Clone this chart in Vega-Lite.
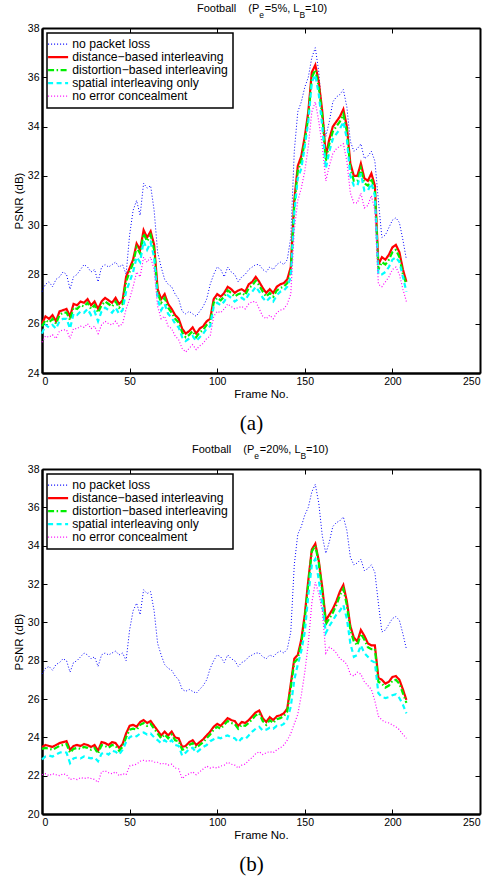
{
"$schema":"https://vega.github.io/schema/vega-lite/v6.json",
"background":"white",
"padding":{"left":13,"top":2,"right":2,"bottom":5},
"config":{"view":{"stroke":null},"font":"Liberation Sans",
"axis":{"grid":false,"labelFont":"Liberation Sans","titleFont":"Liberation Sans","labelFontSize":10.5,"titleFontSize":11.5,"titleFontWeight":"normal","labelColor":"black","titleColor":"black","domainColor":"black","tickColor":"black","tickSize":-5,"tickWidth":1,"labelPadding":8},
"title":{"font":"Liberation Sans","subtitleFont":"Liberation Sans","fontWeight":"normal","color":"black","subtitleColor":"black"},
"legend":{"orient":"top-left","offset":5,"symbolType":"stroke","symbolSize":400,"labelFontSize":12.2,"labelFont":"Liberation Sans","labelColor":"black","strokeColor":"black","fillColor":"white","padding":5,"rowPadding":-6.5,"labelOffset":8,"labelLimit":0,"symbolStrokeWidth":1.5}},
"datasets":{
"n":[{"f":0,"s":"n","v":27.3},{"f":2,"s":"n","v":27.6},{"f":4,"s":"n","v":27.7},{"f":6,"s":"n","v":27.5},{"f":8,"s":"n","v":27.8},{"f":10,"s":"n","v":27.9},{"f":12,"s":"n","v":28.1},{"f":14,"s":"n","v":28.0},{"f":16,"s":"n","v":27.4},{"f":18,"s":"n","v":27.9},{"f":20,"s":"n","v":28.0},{"f":22,"s":"n","v":28.2},{"f":24,"s":"n","v":28.4},{"f":26,"s":"n","v":28.3},{"f":28,"s":"n","v":28.1},{"f":30,"s":"n","v":28.2},{"f":32,"s":"n","v":27.7},{"f":34,"s":"n","v":28.3},{"f":36,"s":"n","v":28.4},{"f":38,"s":"n","v":28.3},{"f":40,"s":"n","v":28.4},{"f":42,"s":"n","v":28.5},{"f":44,"s":"n","v":28.3},{"f":46,"s":"n","v":28.4},{"f":48,"s":"n","v":28.0},{"f":50,"s":"n","v":29.6},{"f":52,"s":"n","v":30.6},{"f":54,"s":"n","v":31.0},{"f":56,"s":"n","v":30.4},{"f":58,"s":"n","v":31.7},{"f":60,"s":"n","v":31.5},{"f":62,"s":"n","v":31.6},{"f":64,"s":"n","v":30.6},{"f":66,"s":"n","v":28.9},{"f":68,"s":"n","v":28.3},{"f":70,"s":"n","v":27.8},{"f":72,"s":"n","v":27.6},{"f":74,"s":"n","v":27.5},{"f":76,"s":"n","v":27.2},{"f":78,"s":"n","v":27.0},{"f":80,"s":"n","v":26.5},{"f":82,"s":"n","v":26.4},{"f":84,"s":"n","v":26.5},{"f":86,"s":"n","v":26.4},{"f":88,"s":"n","v":26.3},{"f":90,"s":"n","v":26.5},{"f":92,"s":"n","v":26.7},{"f":94,"s":"n","v":27.0},{"f":96,"s":"n","v":27.6},{"f":98,"s":"n","v":28.0},{"f":100,"s":"n","v":28.3},{"f":102,"s":"n","v":28.2},{"f":104,"s":"n","v":27.9},{"f":106,"s":"n","v":28.3},{"f":108,"s":"n","v":28.1},{"f":110,"s":"n","v":28.0},{"f":112,"s":"n","v":27.7},{"f":114,"s":"n","v":27.9},{"f":116,"s":"n","v":28.0},{"f":118,"s":"n","v":28.2},{"f":120,"s":"n","v":28.3},{"f":122,"s":"n","v":28.4},{"f":124,"s":"n","v":28.4},{"f":126,"s":"n","v":28.2},{"f":128,"s":"n","v":28.1},{"f":130,"s":"n","v":28.3},{"f":132,"s":"n","v":28.2},{"f":134,"s":"n","v":28.4},{"f":136,"s":"n","v":28.5},{"f":138,"s":"n","v":28.4},{"f":140,"s":"n","v":28.6},{"f":142,"s":"n","v":29.5},{"f":144,"s":"n","v":33.0},{"f":146,"s":"n","v":34.6},{"f":148,"s":"n","v":35.0},{"f":150,"s":"n","v":35.6},{"f":152,"s":"n","v":36.0},{"f":154,"s":"n","v":36.8},{"f":156,"s":"n","v":37.2},{"f":158,"s":"n","v":36.2},{"f":160,"s":"n","v":34.5},{"f":162,"s":"n","v":33.6},{"f":164,"s":"n","v":34.2},{"f":166,"s":"n","v":35.0},{"f":168,"s":"n","v":35.2},{"f":170,"s":"n","v":35.3},{"f":172,"s":"n","v":35.5},{"f":174,"s":"n","v":34.8},{"f":176,"s":"n","v":33.4},{"f":178,"s":"n","v":33.0},{"f":180,"s":"n","v":33.1},{"f":182,"s":"n","v":33.3},{"f":184,"s":"n","v":32.7},{"f":186,"s":"n","v":32.8},{"f":188,"s":"n","v":33.0},{"f":190,"s":"n","v":32.6},{"f":192,"s":"n","v":31.0},{"f":194,"s":"n","v":29.5},{"f":196,"s":"n","v":29.6},{"f":198,"s":"n","v":29.9},{"f":200,"s":"n","v":30.2},{"f":202,"s":"n","v":30.3},{"f":204,"s":"n","v":30.1},{"f":206,"s":"n","v":29.4},{"f":208,"s":"n","v":28.6}],
"a":[{"f":0,"s":"d","v":26.0},{"f":2,"s":"d","v":26.3},{"f":4,"s":"d","v":26.2},{"f":6,"s":"d","v":26.35},{"f":8,"s":"d","v":26.1},{"f":10,"s":"d","v":26.5},{"f":12,"s":"d","v":26.55},{"f":14,"s":"d","v":26.6},{"f":16,"s":"d","v":26.3},{"f":18,"s":"d","v":26.8},{"f":20,"s":"d","v":26.75},{"f":22,"s":"d","v":26.9},{"f":24,"s":"d","v":26.85},{"f":26,"s":"d","v":27.0},{"f":28,"s":"d","v":26.75},{"f":30,"s":"d","v":26.9},{"f":32,"s":"d","v":26.6},{"f":34,"s":"d","v":26.9},{"f":36,"s":"d","v":27.05},{"f":38,"s":"d","v":26.95},{"f":40,"s":"d","v":26.85},{"f":42,"s":"d","v":27.05},{"f":44,"s":"d","v":26.8},{"f":46,"s":"d","v":26.95},{"f":48,"s":"d","v":27.9},{"f":50,"s":"d","v":28.25},{"f":52,"s":"d","v":28.6},{"f":54,"s":"d","v":29.25},{"f":56,"s":"d","v":29.0},{"f":58,"s":"d","v":29.8},{"f":60,"s":"d","v":29.5},{"f":62,"s":"d","v":29.75},{"f":64,"s":"d","v":29.2},{"f":66,"s":"d","v":27.4},{"f":68,"s":"d","v":27.0},{"f":70,"s":"d","v":27.2},{"f":72,"s":"d","v":26.8},{"f":74,"s":"d","v":26.6},{"f":76,"s":"d","v":26.35},{"f":78,"s":"d","v":26.2},{"f":80,"s":"d","v":25.8},{"f":82,"s":"d","v":25.6},{"f":84,"s":"d","v":25.7},{"f":86,"s":"d","v":25.85},{"f":88,"s":"d","v":25.6},{"f":90,"s":"d","v":25.8},{"f":92,"s":"d","v":25.9},{"f":94,"s":"d","v":26.1},{"f":96,"s":"d","v":26.2},{"f":98,"s":"d","v":27.0},{"f":100,"s":"d","v":27.2},{"f":102,"s":"d","v":27.1},{"f":104,"s":"d","v":27.25},{"f":106,"s":"d","v":27.5},{"f":108,"s":"d","v":27.4},{"f":110,"s":"d","v":27.25},{"f":112,"s":"d","v":27.35},{"f":114,"s":"d","v":27.4},{"f":116,"s":"d","v":27.3},{"f":118,"s":"d","v":27.6},{"f":120,"s":"d","v":27.7},{"f":122,"s":"d","v":27.9},{"f":124,"s":"d","v":27.7},{"f":126,"s":"d","v":27.45},{"f":128,"s":"d","v":27.25},{"f":130,"s":"d","v":27.4},{"f":132,"s":"d","v":27.25},{"f":134,"s":"d","v":27.5},{"f":136,"s":"d","v":27.6},{"f":138,"s":"d","v":27.65},{"f":140,"s":"d","v":27.8},{"f":142,"s":"d","v":28.3},{"f":144,"s":"d","v":31.0},{"f":146,"s":"d","v":32.4},{"f":148,"s":"d","v":32.8},{"f":150,"s":"d","v":33.6},{"f":152,"s":"d","v":34.6},{"f":154,"s":"d","v":36.2},{"f":156,"s":"d","v":36.5},{"f":158,"s":"d","v":35.8},{"f":160,"s":"d","v":34.6},{"f":162,"s":"d","v":32.8},{"f":164,"s":"d","v":33.5},{"f":166,"s":"d","v":34.0},{"f":168,"s":"d","v":34.2},{"f":170,"s":"d","v":34.4},{"f":172,"s":"d","v":34.7},{"f":174,"s":"d","v":34.0},{"f":176,"s":"d","v":32.5},{"f":178,"s":"d","v":32.0},{"f":180,"s":"d","v":32.0},{"f":182,"s":"d","v":32.5},{"f":184,"s":"d","v":31.9},{"f":186,"s":"d","v":31.8},{"f":188,"s":"d","v":32.1},{"f":190,"s":"d","v":31.6},{"f":192,"s":"d","v":28.4},{"f":194,"s":"d","v":28.7},{"f":196,"s":"d","v":28.6},{"f":198,"s":"d","v":28.8},{"f":200,"s":"d","v":29.1},{"f":202,"s":"d","v":29.2},{"f":204,"s":"d","v":28.9},{"f":206,"s":"d","v":28.2},{"f":208,"s":"d","v":27.7},
{"f":0,"s":"t","v":25.9},{"f":2,"s":"t","v":26.15},{"f":4,"s":"t","v":26.05},{"f":6,"s":"t","v":26.2},{"f":8,"s":"t","v":26.0},{"f":10,"s":"t","v":26.35},{"f":12,"s":"t","v":26.45},{"f":14,"s":"t","v":26.45},{"f":16,"s":"t","v":26.15},{"f":18,"s":"t","v":26.65},{"f":20,"s":"t","v":26.6},{"f":22,"s":"t","v":26.75},{"f":24,"s":"t","v":26.7},{"f":26,"s":"t","v":26.85},{"f":28,"s":"t","v":26.6},{"f":30,"s":"t","v":26.75},{"f":32,"s":"t","v":26.45},{"f":34,"s":"t","v":26.75},{"f":36,"s":"t","v":26.9},{"f":38,"s":"t","v":26.8},{"f":40,"s":"t","v":26.7},{"f":42,"s":"t","v":26.9},{"f":44,"s":"t","v":26.65},{"f":46,"s":"t","v":26.8},{"f":48,"s":"t","v":27.7},{"f":50,"s":"t","v":28.1},{"f":52,"s":"t","v":28.45},{"f":54,"s":"t","v":29.1},{"f":56,"s":"t","v":28.85},{"f":58,"s":"t","v":29.65},{"f":60,"s":"t","v":29.35},{"f":62,"s":"t","v":29.6},{"f":64,"s":"t","v":29.0},{"f":66,"s":"t","v":27.25},{"f":68,"s":"t","v":26.85},{"f":70,"s":"t","v":27.05},{"f":72,"s":"t","v":26.65},{"f":74,"s":"t","v":26.45},{"f":76,"s":"t","v":26.2},{"f":78,"s":"t","v":26.05},{"f":80,"s":"t","v":25.65},{"f":82,"s":"t","v":25.45},{"f":84,"s":"t","v":25.55},{"f":86,"s":"t","v":25.7},{"f":88,"s":"t","v":25.45},{"f":90,"s":"t","v":25.65},{"f":92,"s":"t","v":25.75},{"f":94,"s":"t","v":25.95},{"f":96,"s":"t","v":26.05},{"f":98,"s":"t","v":26.85},{"f":100,"s":"t","v":27.05},{"f":102,"s":"t","v":26.95},{"f":104,"s":"t","v":27.1},{"f":106,"s":"t","v":27.35},{"f":108,"s":"t","v":27.25},{"f":110,"s":"t","v":27.1},{"f":112,"s":"t","v":27.2},{"f":114,"s":"t","v":27.25},{"f":116,"s":"t","v":27.15},{"f":118,"s":"t","v":27.45},{"f":120,"s":"t","v":27.55},{"f":122,"s":"t","v":27.75},{"f":124,"s":"t","v":27.55},{"f":126,"s":"t","v":27.3},{"f":128,"s":"t","v":27.1},{"f":130,"s":"t","v":27.25},{"f":132,"s":"t","v":27.1},{"f":134,"s":"t","v":27.35},{"f":136,"s":"t","v":27.45},{"f":138,"s":"t","v":27.5},{"f":140,"s":"t","v":27.65},{"f":142,"s":"t","v":28.1},{"f":144,"s":"t","v":30.8},{"f":146,"s":"t","v":32.2},{"f":148,"s":"t","v":32.6},{"f":150,"s":"t","v":33.4},{"f":152,"s":"t","v":34.4},{"f":154,"s":"t","v":36.0},{"f":156,"s":"t","v":36.3},{"f":158,"s":"t","v":35.6},{"f":160,"s":"t","v":34.4},{"f":162,"s":"t","v":32.6},{"f":164,"s":"t","v":33.3},{"f":166,"s":"t","v":33.8},{"f":168,"s":"t","v":34.0},{"f":170,"s":"t","v":34.2},{"f":172,"s":"t","v":34.5},{"f":174,"s":"t","v":33.8},{"f":176,"s":"t","v":32.3},{"f":178,"s":"t","v":31.8},{"f":180,"s":"t","v":31.8},{"f":182,"s":"t","v":32.3},{"f":184,"s":"t","v":31.7},{"f":186,"s":"t","v":31.6},{"f":188,"s":"t","v":31.9},{"f":190,"s":"t","v":31.4},{"f":192,"s":"t","v":28.2},{"f":194,"s":"t","v":28.5},{"f":196,"s":"t","v":28.4},{"f":198,"s":"t","v":28.6},{"f":200,"s":"t","v":28.9},{"f":202,"s":"t","v":29.0},{"f":204,"s":"t","v":28.7},{"f":206,"s":"t","v":28.0},{"f":208,"s":"t","v":27.6},
{"f":0,"s":"s","v":25.6},{"f":2,"s":"s","v":25.95},{"f":4,"s":"s","v":25.85},{"f":6,"s":"s","v":25.95},{"f":8,"s":"s","v":25.8},{"f":10,"s":"s","v":26.1},{"f":12,"s":"s","v":26.2},{"f":14,"s":"s","v":26.2},{"f":16,"s":"s","v":25.8},{"f":18,"s":"s","v":26.4},{"f":20,"s":"s","v":26.35},{"f":22,"s":"s","v":26.5},{"f":24,"s":"s","v":26.45},{"f":26,"s":"s","v":26.6},{"f":28,"s":"s","v":26.35},{"f":30,"s":"s","v":26.5},{"f":32,"s":"s","v":26.1},{"f":34,"s":"s","v":26.5},{"f":36,"s":"s","v":26.65},{"f":38,"s":"s","v":26.55},{"f":40,"s":"s","v":26.45},{"f":42,"s":"s","v":26.65},{"f":44,"s":"s","v":26.4},{"f":46,"s":"s","v":26.55},{"f":48,"s":"s","v":27.3},{"f":50,"s":"s","v":27.7},{"f":52,"s":"s","v":28.1},{"f":54,"s":"s","v":28.7},{"f":56,"s":"s","v":28.5},{"f":58,"s":"s","v":29.35},{"f":60,"s":"s","v":29.0},{"f":62,"s":"s","v":29.3},{"f":64,"s":"s","v":28.7},{"f":66,"s":"s","v":27.0},{"f":68,"s":"s","v":26.55},{"f":70,"s":"s","v":26.8},{"f":72,"s":"s","v":26.4},{"f":74,"s":"s","v":26.25},{"f":76,"s":"s","v":26.0},{"f":78,"s":"s","v":25.85},{"f":80,"s":"s","v":25.45},{"f":82,"s":"s","v":25.3},{"f":84,"s":"s","v":25.4},{"f":86,"s":"s","v":25.5},{"f":88,"s":"s","v":25.3},{"f":90,"s":"s","v":25.45},{"f":92,"s":"s","v":25.6},{"f":94,"s":"s","v":25.8},{"f":96,"s":"s","v":25.9},{"f":98,"s":"s","v":26.7},{"f":100,"s":"s","v":26.85},{"f":102,"s":"s","v":26.75},{"f":104,"s":"s","v":26.9},{"f":106,"s":"s","v":27.15},{"f":108,"s":"s","v":27.05},{"f":110,"s":"s","v":26.9},{"f":112,"s":"s","v":27.0},{"f":114,"s":"s","v":27.05},{"f":116,"s":"s","v":26.95},{"f":118,"s":"s","v":27.2},{"f":120,"s":"s","v":27.3},{"f":122,"s":"s","v":27.5},{"f":124,"s":"s","v":27.3},{"f":126,"s":"s","v":27.05},{"f":128,"s":"s","v":26.9},{"f":130,"s":"s","v":27.05},{"f":132,"s":"s","v":26.9},{"f":134,"s":"s","v":27.15},{"f":136,"s":"s","v":27.3},{"f":138,"s":"s","v":27.35},{"f":140,"s":"s","v":27.5},{"f":142,"s":"s","v":27.9},{"f":144,"s":"s","v":30.5},{"f":146,"s":"s","v":31.9},{"f":148,"s":"s","v":32.3},{"f":150,"s":"s","v":33.2},{"f":152,"s":"s","v":34.2},{"f":154,"s":"s","v":35.8},{"f":156,"s":"s","v":36.1},{"f":158,"s":"s","v":35.3},{"f":160,"s":"s","v":34.0},{"f":162,"s":"s","v":32.3},{"f":164,"s":"s","v":33.0},{"f":166,"s":"s","v":33.5},{"f":168,"s":"s","v":33.7},{"f":170,"s":"s","v":33.9},{"f":172,"s":"s","v":34.2},{"f":174,"s":"s","v":33.5},{"f":176,"s":"s","v":32.0},{"f":178,"s":"s","v":31.6},{"f":180,"s":"s","v":31.6},{"f":182,"s":"s","v":32.1},{"f":184,"s":"s","v":31.4},{"f":186,"s":"s","v":31.4},{"f":188,"s":"s","v":31.7},{"f":190,"s":"s","v":31.2},{"f":192,"s":"s","v":28.0},{"f":194,"s":"s","v":28.0},{"f":196,"s":"s","v":28.1},{"f":198,"s":"s","v":28.3},{"f":200,"s":"s","v":28.6},{"f":202,"s":"s","v":28.7},{"f":204,"s":"s","v":28.5},{"f":206,"s":"s","v":27.9},{"f":208,"s":"s","v":27.3},
{"f":0,"s":"c","v":25.25},{"f":2,"s":"c","v":25.5},{"f":4,"s":"c","v":25.45},{"f":6,"s":"c","v":25.55},{"f":8,"s":"c","v":25.4},{"f":10,"s":"c","v":25.7},{"f":12,"s":"c","v":25.75},{"f":14,"s":"c","v":25.75},{"f":16,"s":"c","v":25.4},{"f":18,"s":"c","v":25.8},{"f":20,"s":"c","v":25.8},{"f":22,"s":"c","v":25.9},{"f":24,"s":"c","v":25.85},{"f":26,"s":"c","v":26.0},{"f":28,"s":"c","v":25.8},{"f":30,"s":"c","v":25.9},{"f":32,"s":"c","v":25.6},{"f":34,"s":"c","v":25.95},{"f":36,"s":"c","v":26.1},{"f":38,"s":"c","v":26.0},{"f":40,"s":"c","v":25.95},{"f":42,"s":"c","v":26.1},{"f":44,"s":"c","v":25.9},{"f":46,"s":"c","v":26.0},{"f":48,"s":"c","v":26.6},{"f":50,"s":"c","v":27.0},{"f":52,"s":"c","v":27.5},{"f":54,"s":"c","v":28.1},{"f":56,"s":"c","v":27.9},{"f":58,"s":"c","v":28.7},{"f":60,"s":"c","v":28.5},{"f":62,"s":"c","v":28.7},{"f":64,"s":"c","v":28.2},{"f":66,"s":"c","v":26.7},{"f":68,"s":"c","v":26.2},{"f":70,"s":"c","v":26.3},{"f":72,"s":"c","v":25.9},{"f":74,"s":"c","v":25.8},{"f":76,"s":"c","v":25.5},{"f":78,"s":"c","v":25.35},{"f":80,"s":"c","v":25.0},{"f":82,"s":"c","v":24.85},{"f":84,"s":"c","v":25.0},{"f":86,"s":"c","v":25.15},{"f":88,"s":"c","v":24.95},{"f":90,"s":"c","v":25.1},{"f":92,"s":"c","v":25.2},{"f":94,"s":"c","v":25.4},{"f":96,"s":"c","v":25.5},{"f":98,"s":"c","v":26.3},{"f":100,"s":"c","v":26.5},{"f":102,"s":"c","v":26.45},{"f":104,"s":"c","v":26.6},{"f":106,"s":"c","v":26.8},{"f":108,"s":"c","v":26.7},{"f":110,"s":"c","v":26.6},{"f":112,"s":"c","v":26.65},{"f":114,"s":"c","v":26.7},{"f":116,"s":"c","v":26.6},{"f":118,"s":"c","v":26.8},{"f":120,"s":"c","v":26.9},{"f":122,"s":"c","v":26.9},{"f":124,"s":"c","v":26.6},{"f":126,"s":"c","v":26.3},{"f":128,"s":"c","v":26.2},{"f":130,"s":"c","v":26.35},{"f":132,"s":"c","v":26.2},{"f":134,"s":"c","v":26.45},{"f":136,"s":"c","v":26.55},{"f":138,"s":"c","v":26.6},{"f":140,"s":"c","v":26.8},{"f":142,"s":"c","v":27.2},{"f":144,"s":"c","v":29.8},{"f":146,"s":"c","v":31.0},{"f":148,"s":"c","v":31.5},{"f":150,"s":"c","v":32.2},{"f":152,"s":"c","v":33.2},{"f":154,"s":"c","v":34.6},{"f":156,"s":"c","v":35.0},{"f":158,"s":"c","v":34.2},{"f":160,"s":"c","v":33.2},{"f":162,"s":"c","v":31.8},{"f":164,"s":"c","v":32.4},{"f":166,"s":"c","v":32.9},{"f":168,"s":"c","v":33.1},{"f":170,"s":"c","v":33.2},{"f":172,"s":"c","v":33.3},{"f":174,"s":"c","v":32.6},{"f":176,"s":"c","v":31.3},{"f":178,"s":"c","v":30.9},{"f":180,"s":"c","v":30.9},{"f":182,"s":"c","v":31.3},{"f":184,"s":"c","v":30.7},{"f":186,"s":"c","v":30.8},{"f":188,"s":"c","v":31.2},{"f":190,"s":"c","v":30.6},{"f":192,"s":"c","v":27.6},{"f":194,"s":"c","v":27.5},{"f":196,"s":"c","v":27.7},{"f":198,"s":"c","v":27.9},{"f":200,"s":"c","v":28.2},{"f":202,"s":"c","v":28.3},{"f":204,"s":"c","v":28.0},{"f":206,"s":"c","v":27.4},{"f":208,"s":"c","v":26.9}],
"b":[{"f":0,"s":"d","v":23.5},{"f":2,"s":"d","v":23.6},{"f":4,"s":"d","v":23.55},{"f":6,"s":"d","v":23.5},{"f":8,"s":"d","v":23.6},{"f":10,"s":"d","v":23.7},{"f":12,"s":"d","v":23.75},{"f":14,"s":"d","v":23.8},{"f":16,"s":"d","v":23.35},{"f":18,"s":"d","v":23.55},{"f":20,"s":"d","v":23.6},{"f":22,"s":"d","v":23.55},{"f":24,"s":"d","v":23.65},{"f":26,"s":"d","v":23.6},{"f":28,"s":"d","v":23.5},{"f":30,"s":"d","v":23.6},{"f":32,"s":"d","v":23.3},{"f":34,"s":"d","v":23.75},{"f":36,"s":"d","v":23.7},{"f":38,"s":"d","v":23.6},{"f":40,"s":"d","v":23.75},{"f":42,"s":"d","v":23.7},{"f":44,"s":"d","v":23.45},{"f":46,"s":"d","v":23.65},{"f":48,"s":"d","v":24.2},{"f":50,"s":"d","v":24.6},{"f":52,"s":"d","v":24.65},{"f":54,"s":"d","v":24.55},{"f":56,"s":"d","v":24.8},{"f":58,"s":"d","v":24.9},{"f":60,"s":"d","v":24.75},{"f":62,"s":"d","v":24.85},{"f":64,"s":"d","v":24.6},{"f":66,"s":"d","v":24.35},{"f":68,"s":"d","v":24.1},{"f":70,"s":"d","v":24.3},{"f":72,"s":"d","v":24.1},{"f":74,"s":"d","v":24.3},{"f":76,"s":"d","v":24.0},{"f":78,"s":"d","v":23.95},{"f":80,"s":"d","v":23.5},{"f":82,"s":"d","v":23.55},{"f":84,"s":"d","v":23.75},{"f":86,"s":"d","v":23.85},{"f":88,"s":"d","v":23.6},{"f":90,"s":"d","v":23.75},{"f":92,"s":"d","v":23.9},{"f":94,"s":"d","v":24.1},{"f":96,"s":"d","v":24.3},{"f":98,"s":"d","v":24.55},{"f":100,"s":"d","v":24.7},{"f":102,"s":"d","v":24.6},{"f":104,"s":"d","v":24.8},{"f":106,"s":"d","v":25.0},{"f":108,"s":"d","v":24.9},{"f":110,"s":"d","v":24.85},{"f":112,"s":"d","v":24.6},{"f":114,"s":"d","v":24.8},{"f":116,"s":"d","v":24.75},{"f":118,"s":"d","v":24.9},{"f":120,"s":"d","v":25.1},{"f":122,"s":"d","v":25.3},{"f":124,"s":"d","v":25.4},{"f":126,"s":"d","v":25.0},{"f":128,"s":"d","v":24.8},{"f":130,"s":"d","v":25.05},{"f":132,"s":"d","v":24.9},{"f":134,"s":"d","v":25.1},{"f":136,"s":"d","v":25.15},{"f":138,"s":"d","v":25.25},{"f":140,"s":"d","v":25.5},{"f":142,"s":"d","v":26.8},{"f":144,"s":"d","v":28.1},{"f":146,"s":"d","v":28.3},{"f":148,"s":"d","v":29.1},{"f":150,"s":"d","v":30.4},{"f":152,"s":"d","v":32.2},{"f":154,"s":"d","v":33.8},{"f":156,"s":"d","v":34.1},{"f":158,"s":"d","v":33.2},{"f":160,"s":"d","v":31.8},{"f":162,"s":"d","v":30.1},{"f":164,"s":"d","v":30.4},{"f":166,"s":"d","v":30.7},{"f":168,"s":"d","v":31.1},{"f":170,"s":"d","v":31.6},{"f":172,"s":"d","v":31.95},{"f":174,"s":"d","v":31.1},{"f":176,"s":"d","v":29.8},{"f":178,"s":"d","v":29.2},{"f":180,"s":"d","v":29.0},{"f":182,"s":"d","v":29.6},{"f":184,"s":"d","v":29.3},{"f":186,"s":"d","v":28.9},{"f":188,"s":"d","v":28.8},{"f":190,"s":"d","v":28.8},{"f":192,"s":"d","v":27.1},{"f":194,"s":"d","v":27.0},{"f":196,"s":"d","v":26.8},{"f":198,"s":"d","v":26.9},{"f":200,"s":"d","v":27.15},{"f":202,"s":"d","v":27.2},{"f":204,"s":"d","v":27.0},{"f":206,"s":"d","v":26.5},{"f":208,"s":"d","v":25.95},
{"f":0,"s":"t","v":23.4},{"f":2,"s":"t","v":23.45},{"f":4,"s":"t","v":23.4},{"f":6,"s":"t","v":23.35},{"f":8,"s":"t","v":23.45},{"f":10,"s":"t","v":23.55},{"f":12,"s":"t","v":23.6},{"f":14,"s":"t","v":23.65},{"f":16,"s":"t","v":23.2},{"f":18,"s":"t","v":23.4},{"f":20,"s":"t","v":23.45},{"f":22,"s":"t","v":23.4},{"f":24,"s":"t","v":23.5},{"f":26,"s":"t","v":23.45},{"f":28,"s":"t","v":23.35},{"f":30,"s":"t","v":23.45},{"f":32,"s":"t","v":23.15},{"f":34,"s":"t","v":23.6},{"f":36,"s":"t","v":23.55},{"f":38,"s":"t","v":23.45},{"f":40,"s":"t","v":23.6},{"f":42,"s":"t","v":23.55},{"f":44,"s":"t","v":23.3},{"f":46,"s":"t","v":23.5},{"f":48,"s":"t","v":24.0},{"f":50,"s":"t","v":24.4},{"f":52,"s":"t","v":24.45},{"f":54,"s":"t","v":24.4},{"f":56,"s":"t","v":24.65},{"f":58,"s":"t","v":24.75},{"f":60,"s":"t","v":24.6},{"f":62,"s":"t","v":24.7},{"f":64,"s":"t","v":24.45},{"f":66,"s":"t","v":24.2},{"f":68,"s":"t","v":23.95},{"f":70,"s":"t","v":24.15},{"f":72,"s":"t","v":23.95},{"f":74,"s":"t","v":24.15},{"f":76,"s":"t","v":23.85},{"f":78,"s":"t","v":23.8},{"f":80,"s":"t","v":23.35},{"f":82,"s":"t","v":23.4},{"f":84,"s":"t","v":23.6},{"f":86,"s":"t","v":23.7},{"f":88,"s":"t","v":23.45},{"f":90,"s":"t","v":23.6},{"f":92,"s":"t","v":23.75},{"f":94,"s":"t","v":23.95},{"f":96,"s":"t","v":24.15},{"f":98,"s":"t","v":24.4},{"f":100,"s":"t","v":24.55},{"f":102,"s":"t","v":24.45},{"f":104,"s":"t","v":24.65},{"f":106,"s":"t","v":24.85},{"f":108,"s":"t","v":24.75},{"f":110,"s":"t","v":24.7},{"f":112,"s":"t","v":24.45},{"f":114,"s":"t","v":24.65},{"f":116,"s":"t","v":24.6},{"f":118,"s":"t","v":24.75},{"f":120,"s":"t","v":24.95},{"f":122,"s":"t","v":25.15},{"f":124,"s":"t","v":25.25},{"f":126,"s":"t","v":24.85},{"f":128,"s":"t","v":24.65},{"f":130,"s":"t","v":24.9},{"f":132,"s":"t","v":24.75},{"f":134,"s":"t","v":24.95},{"f":136,"s":"t","v":25.0},{"f":138,"s":"t","v":25.1},{"f":140,"s":"t","v":25.35},{"f":142,"s":"t","v":26.6},{"f":144,"s":"t","v":27.9},{"f":146,"s":"t","v":28.1},{"f":148,"s":"t","v":28.9},{"f":150,"s":"t","v":30.2},{"f":152,"s":"t","v":32.0},{"f":154,"s":"t","v":33.7},{"f":156,"s":"t","v":34.0},{"f":158,"s":"t","v":33.1},{"f":160,"s":"t","v":31.6},{"f":162,"s":"t","v":29.9},{"f":164,"s":"t","v":30.2},{"f":166,"s":"t","v":30.5},{"f":168,"s":"t","v":30.9},{"f":170,"s":"t","v":31.4},{"f":172,"s":"t","v":31.75},{"f":174,"s":"t","v":30.9},{"f":176,"s":"t","v":29.6},{"f":178,"s":"t","v":29.0},{"f":180,"s":"t","v":28.8},{"f":182,"s":"t","v":29.4},{"f":184,"s":"t","v":29.1},{"f":186,"s":"t","v":28.7},{"f":188,"s":"t","v":28.6},{"f":190,"s":"t","v":28.6},{"f":192,"s":"t","v":26.9},{"f":194,"s":"t","v":26.8},{"f":196,"s":"t","v":26.6},{"f":198,"s":"t","v":26.7},{"f":200,"s":"t","v":26.95},{"f":202,"s":"t","v":27.0},{"f":204,"s":"t","v":26.8},{"f":206,"s":"t","v":26.3},{"f":208,"s":"t","v":25.8},
{"f":0,"s":"s","v":22.85},{"f":2,"s":"s","v":23.0},{"f":4,"s":"s","v":23.05},{"f":6,"s":"s","v":23.0},{"f":8,"s":"s","v":23.1},{"f":10,"s":"s","v":23.2},{"f":12,"s":"s","v":23.25},{"f":14,"s":"s","v":23.2},{"f":16,"s":"s","v":22.65},{"f":18,"s":"s","v":22.9},{"f":20,"s":"s","v":22.95},{"f":22,"s":"s","v":22.9},{"f":24,"s":"s","v":23.0},{"f":26,"s":"s","v":22.95},{"f":28,"s":"s","v":22.9},{"f":30,"s":"s","v":22.95},{"f":32,"s":"s","v":22.75},{"f":34,"s":"s","v":23.15},{"f":36,"s":"s","v":23.2},{"f":38,"s":"s","v":23.1},{"f":40,"s":"s","v":23.3},{"f":42,"s":"s","v":23.25},{"f":44,"s":"s","v":23.1},{"f":46,"s":"s","v":23.35},{"f":48,"s":"s","v":23.75},{"f":50,"s":"s","v":24.0},{"f":52,"s":"s","v":24.1},{"f":54,"s":"s","v":24.05},{"f":56,"s":"s","v":24.2},{"f":58,"s":"s","v":24.25},{"f":60,"s":"s","v":24.15},{"f":62,"s":"s","v":24.2},{"f":64,"s":"s","v":24.0},{"f":66,"s":"s","v":23.85},{"f":68,"s":"s","v":23.7},{"f":70,"s":"s","v":23.85},{"f":72,"s":"s","v":23.7},{"f":74,"s":"s","v":23.85},{"f":76,"s":"s","v":23.6},{"f":78,"s":"s","v":23.55},{"f":80,"s":"s","v":23.05},{"f":82,"s":"s","v":23.2},{"f":84,"s":"s","v":23.4},{"f":86,"s":"s","v":23.45},{"f":88,"s":"s","v":23.2},{"f":90,"s":"s","v":23.35},{"f":92,"s":"s","v":23.5},{"f":94,"s":"s","v":23.6},{"f":96,"s":"s","v":23.8},{"f":98,"s":"s","v":23.9},{"f":100,"s":"s","v":24.0},{"f":102,"s":"s","v":23.95},{"f":104,"s":"s","v":24.05},{"f":106,"s":"s","v":24.1},{"f":108,"s":"s","v":24.0},{"f":110,"s":"s","v":23.95},{"f":112,"s":"s","v":23.75},{"f":114,"s":"s","v":23.95},{"f":116,"s":"s","v":23.9},{"f":118,"s":"s","v":24.1},{"f":120,"s":"s","v":24.3},{"f":122,"s":"s","v":24.45},{"f":124,"s":"s","v":24.55},{"f":126,"s":"s","v":24.35},{"f":128,"s":"s","v":24.4},{"f":130,"s":"s","v":24.5},{"f":132,"s":"s","v":24.45},{"f":134,"s":"s","v":24.6},{"f":136,"s":"s","v":24.6},{"f":138,"s":"s","v":24.7},{"f":140,"s":"s","v":24.95},{"f":142,"s":"s","v":25.6},{"f":144,"s":"s","v":27.0},{"f":146,"s":"s","v":27.8},{"f":148,"s":"s","v":28.5},{"f":150,"s":"s","v":29.5},{"f":152,"s":"s","v":31.4},{"f":154,"s":"s","v":33.0},{"f":156,"s":"s","v":33.3},{"f":158,"s":"s","v":32.2},{"f":160,"s":"s","v":30.9},{"f":162,"s":"s","v":29.45},{"f":164,"s":"s","v":29.8},{"f":166,"s":"s","v":30.1},{"f":168,"s":"s","v":30.4},{"f":170,"s":"s","v":30.6},{"f":172,"s":"s","v":30.9},{"f":174,"s":"s","v":30.2},{"f":176,"s":"s","v":28.9},{"f":178,"s":"s","v":28.2},{"f":180,"s":"s","v":28.3},{"f":182,"s":"s","v":28.8},{"f":184,"s":"s","v":28.4},{"f":186,"s":"s","v":28.2},{"f":188,"s":"s","v":28.0},{"f":190,"s":"s","v":27.9},{"f":192,"s":"s","v":26.3},{"f":194,"s":"s","v":26.1},{"f":196,"s":"s","v":26.05},{"f":198,"s":"s","v":26.1},{"f":200,"s":"s","v":26.2},{"f":202,"s":"s","v":26.25},{"f":204,"s":"s","v":26.05},{"f":206,"s":"s","v":25.7},{"f":208,"s":"s","v":25.25},
{"f":0,"s":"c","v":22.05},{"f":2,"s":"c","v":22.1},{"f":4,"s":"c","v":22.0},{"f":6,"s":"c","v":22.1},{"f":8,"s":"c","v":22.05},{"f":10,"s":"c","v":22.0},{"f":12,"s":"c","v":22.1},{"f":14,"s":"c","v":22.05},{"f":16,"s":"c","v":21.8},{"f":18,"s":"c","v":21.85},{"f":20,"s":"c","v":21.8},{"f":22,"s":"c","v":21.9},{"f":24,"s":"c","v":21.85},{"f":26,"s":"c","v":21.9},{"f":28,"s":"c","v":21.85},{"f":30,"s":"c","v":21.8},{"f":32,"s":"c","v":21.65},{"f":34,"s":"c","v":22.2},{"f":36,"s":"c","v":22.25},{"f":38,"s":"c","v":22.15},{"f":40,"s":"c","v":22.1},{"f":42,"s":"c","v":22.2},{"f":44,"s":"c","v":22.0},{"f":46,"s":"c","v":22.1},{"f":48,"s":"c","v":22.05},{"f":50,"s":"c","v":22.5},{"f":52,"s":"c","v":22.55},{"f":54,"s":"c","v":22.6},{"f":56,"s":"c","v":22.75},{"f":58,"s":"c","v":22.8},{"f":60,"s":"c","v":22.75},{"f":62,"s":"c","v":22.8},{"f":64,"s":"c","v":22.7},{"f":66,"s":"c","v":22.7},{"f":68,"s":"c","v":22.6},{"f":70,"s":"c","v":22.65},{"f":72,"s":"c","v":22.55},{"f":74,"s":"c","v":22.6},{"f":76,"s":"c","v":22.4},{"f":78,"s":"c","v":22.35},{"f":80,"s":"c","v":21.85},{"f":82,"s":"c","v":22.0},{"f":84,"s":"c","v":22.1},{"f":86,"s":"c","v":22.2},{"f":88,"s":"c","v":22.05},{"f":90,"s":"c","v":22.2},{"f":92,"s":"c","v":22.35},{"f":94,"s":"c","v":22.5},{"f":96,"s":"c","v":22.4},{"f":98,"s":"c","v":22.45},{"f":100,"s":"c","v":22.4},{"f":102,"s":"c","v":22.5},{"f":104,"s":"c","v":22.55},{"f":106,"s":"c","v":22.7},{"f":108,"s":"c","v":22.6},{"f":110,"s":"c","v":22.55},{"f":112,"s":"c","v":22.4},{"f":114,"s":"c","v":22.55},{"f":116,"s":"c","v":22.6},{"f":118,"s":"c","v":22.8},{"f":120,"s":"c","v":22.95},{"f":122,"s":"c","v":23.15},{"f":124,"s":"c","v":23.25},{"f":126,"s":"c","v":23.1},{"f":128,"s":"c","v":23.2},{"f":130,"s":"c","v":23.25},{"f":132,"s":"c","v":23.2},{"f":134,"s":"c","v":23.35},{"f":136,"s":"c","v":23.45},{"f":138,"s":"c","v":23.6},{"f":140,"s":"c","v":23.85},{"f":142,"s":"c","v":24.2},{"f":144,"s":"c","v":24.7},{"f":146,"s":"c","v":25.2},{"f":148,"s":"c","v":26.2},{"f":150,"s":"c","v":27.4},{"f":152,"s":"c","v":28.9},{"f":154,"s":"c","v":31.0},{"f":156,"s":"c","v":32.1},{"f":158,"s":"c","v":31.5},{"f":160,"s":"c","v":30.6},{"f":162,"s":"c","v":28.4},{"f":164,"s":"c","v":28.7},{"f":166,"s":"c","v":28.6},{"f":168,"s":"c","v":28.4},{"f":170,"s":"c","v":28.1},{"f":172,"s":"c","v":28.0},{"f":174,"s":"c","v":27.8},{"f":176,"s":"c","v":27.3},{"f":178,"s":"c","v":27.2},{"f":180,"s":"c","v":27.4},{"f":182,"s":"c","v":27.3},{"f":184,"s":"c","v":26.9},{"f":186,"s":"c","v":26.7},{"f":188,"s":"c","v":26.5},{"f":190,"s":"c","v":25.9},{"f":192,"s":"c","v":25.1},{"f":194,"s":"c","v":24.9},{"f":196,"s":"c","v":24.8},{"f":198,"s":"c","v":24.75},{"f":200,"s":"c","v":24.65},{"f":202,"s":"c","v":24.55},{"f":204,"s":"c","v":24.4},{"f":206,"s":"c","v":24.15},{"f":208,"s":"c","v":23.95}]
},
"spacing":10,
"resolve":{"scale":{"color":"independent","strokeDash":"independent"}},
"vconcat":[
{"width":438,"height":345,
"title":{"text":"Football\u00a0\u00a0\u00a0\u00a0(P\u2002=5%, L\u2002=10)","subtitle":"\u200b\u2002\u2002\u2002\u2002\u2002\u2002\u2002\u2002\u2002\u2002\u2002\u2002\u2002\u00a0\u00a0\u00a0e\u2002\u2002\u2002\u2002\u2002\u00a0\u00a0\u00a0\u00a0\u00a0\u00a0B","anchor":"start","frame":"group","dx":155,"fontSize":11,"subtitleFontSize":8.5,"subtitlePadding":-3,"offset":4},
"resolve":{"axis":{"x":"independent","y":"independent"}},
"layer":[
{"data":{"name":"n"},"mark":{"type":"line","opacity":0},"encoding":{
"x":{"field":"f","type":"quantitative","scale":{"domain":[0,250],"nice":false},"axis":{"orient":"top","labels":false,"title":null,"values":[0,50,100,150,200,250],"domainWidth":2}},
"y":{"field":"v","type":"quantitative","scale":{"domain":[24,38],"nice":false,"zero":false},"axis":{"orient":"right","labels":false,"title":null,"values":[24,26,28,30,32,34,36,38],"domainWidth":2}}}},
{"data":{"name":"n"},"mark":{"type":"line","strokeWidth":1},"encoding":{
"x":{"field":"f","type":"quantitative","scale":{"domain":[0,250],"nice":false},"axis":{"orient":"bottom","title":"Frame No.","values":[0,50,100,150,200,250],"domainWidth":2.5,"labelPadding":8.5,"titlePadding":1}},
"y":{"field":"v","type":"quantitative","scale":{"domain":[24,38],"nice":false,"zero":false},"axis":{"orient":"left","title":"PSNR (dB)","values":[24,26,28,30,32,34,36,38],"domainWidth":2.5,"titlePadding":3}},
"color":{"field":"s","type":"nominal","scale":{"domain":["n","d","t","s","c"],"range":["#0000ff","#ff0000","#00ee00","#00ffff","#ff00ff"]},"legend":{"title":null,"labelExpr":"{'n':'no packet loss','d':'distance−based interleaving','t':'distortion−based interleaving','s':'spatial interleaving only','c':'no error concealment'}[datum.label]","encode":{"symbols":{"update":{"strokeWidth":{"signal":"datum.value == 'n' || datum.value == 'c' ? 1.2 : 2.2"}}},"legend":{"update":{"strokeWidth":{"value":1.5}}}}}},
"strokeDash":{"field":"s","type":"nominal","scale":{"domain":["n","d","t","s","c"],"range":[[1,2],[1,0],[6,2.5,1.5,2.5],[5,3.5],[1,2]]},"legend":{"title":null}}}},
{"data":{"name":"a"},"transform":[{"filter":"datum.s != 'c'"}],"mark":{"type":"line","strokeWidth":2.2},"encoding":{
"x":{"field":"f","type":"quantitative","axis":null},"y":{"field":"v","type":"quantitative","axis":null},
"color":{"field":"s","type":"nominal"},"strokeDash":{"field":"s","type":"nominal"}}},
{"data":{"name":"a"},"transform":[{"filter":"datum.s == 'c'"}],"mark":{"type":"line","strokeWidth":1.2},"encoding":{
"x":{"field":"f","type":"quantitative","axis":null},"y":{"field":"v","type":"quantitative","axis":null},
"color":{"field":"s","type":"nominal"},"strokeDash":{"field":"s","type":"nominal"}}},
{"data":{"name":"n"},"mark":{"type":"line","opacity":0},"encoding":{
"x":{"field":"f","type":"quantitative","axis":{"orient":"bottom","offset":39,"domain":false,"ticks":false,"labels":false,"title":"(a)","titleFont":"Liberation Serif","titleFontSize":21,"titleX":209,"titlePadding":0}},
"y":{"field":"v","type":"quantitative","axis":null}}}
]},
{"width":438,"height":345,
"title":{"text":"Football\u00a0\u00a0\u00a0\u00a0(P\u2002=20%, L\u2002=10)","subtitle":"\u200b\u2002\u2002\u2002\u2002\u2002\u2002\u2002\u2002\u2002\u2002\u2002\u2002\u2002\u00a0\u00a0\u00a0e\u2002\u2002\u2002\u2002\u2002\u2002\u2002\u00a0\u00a0\u00a0\u00a0\u00a0B","anchor":"start","frame":"group","dx":150,"fontSize":11,"subtitleFontSize":8.5,"subtitlePadding":-3,"offset":4},
"resolve":{"axis":{"x":"independent","y":"independent"}},
"layer":[
{"data":{"name":"n"},"mark":{"type":"line","opacity":0},"encoding":{
"x":{"field":"f","type":"quantitative","scale":{"domain":[0,250],"nice":false},"axis":{"orient":"top","labels":false,"title":null,"values":[0,50,100,150,200,250],"domainWidth":2}},
"y":{"field":"v","type":"quantitative","scale":{"domain":[20,38],"nice":false,"zero":false},"axis":{"orient":"right","labels":false,"title":null,"values":[20,22,24,26,28,30,32,34,36,38],"domainWidth":2}}}},
{"data":{"name":"n"},"mark":{"type":"line","strokeWidth":1},"encoding":{
"x":{"field":"f","type":"quantitative","scale":{"domain":[0,250],"nice":false},"axis":{"orient":"bottom","title":"Frame No.","values":[0,50,100,150,200,250],"domainWidth":2.5,"labelPadding":8.5,"titlePadding":1}},
"y":{"field":"v","type":"quantitative","scale":{"domain":[20,38],"nice":false,"zero":false},"axis":{"orient":"left","title":"PSNR (dB)","values":[20,22,24,26,28,30,32,34,36,38],"domainWidth":2.5,"titlePadding":3}},
"color":{"field":"s","type":"nominal","scale":{"domain":["n","d","t","s","c"],"range":["#0000ff","#ff0000","#00ee00","#00ffff","#ff00ff"]},"legend":{"title":null,"labelExpr":"{'n':'no packet loss','d':'distance−based interleaving','t':'distortion−based interleaving','s':'spatial interleaving only','c':'no error concealment'}[datum.label]","encode":{"symbols":{"update":{"strokeWidth":{"signal":"datum.value == 'n' || datum.value == 'c' ? 1.2 : 2.2"}}},"legend":{"update":{"strokeWidth":{"value":1.5}}}}}},
"strokeDash":{"field":"s","type":"nominal","scale":{"domain":["n","d","t","s","c"],"range":[[1,2],[1,0],[6,2.5,1.5,2.5],[5,3.5],[1,2]]},"legend":{"title":null}}}},
{"data":{"name":"b"},"transform":[{"filter":"datum.s != 'c'"}],"mark":{"type":"line","strokeWidth":2.2},"encoding":{
"x":{"field":"f","type":"quantitative","axis":null},"y":{"field":"v","type":"quantitative","axis":null},
"color":{"field":"s","type":"nominal"},"strokeDash":{"field":"s","type":"nominal"}}},
{"data":{"name":"b"},"transform":[{"filter":"datum.s == 'c'"}],"mark":{"type":"line","strokeWidth":1.2},"encoding":{
"x":{"field":"f","type":"quantitative","axis":null},"y":{"field":"v","type":"quantitative","axis":null},
"color":{"field":"s","type":"nominal"},"strokeDash":{"field":"s","type":"nominal"}}},
{"data":{"name":"n"},"mark":{"type":"line","opacity":0},"encoding":{
"x":{"field":"f","type":"quantitative","axis":{"orient":"bottom","offset":39,"domain":false,"ticks":false,"labels":false,"title":"(b)","titleFont":"Liberation Serif","titleFontSize":21,"titleX":209,"titlePadding":0}},
"y":{"field":"v","type":"quantitative","axis":null}}}
]}
]
}
